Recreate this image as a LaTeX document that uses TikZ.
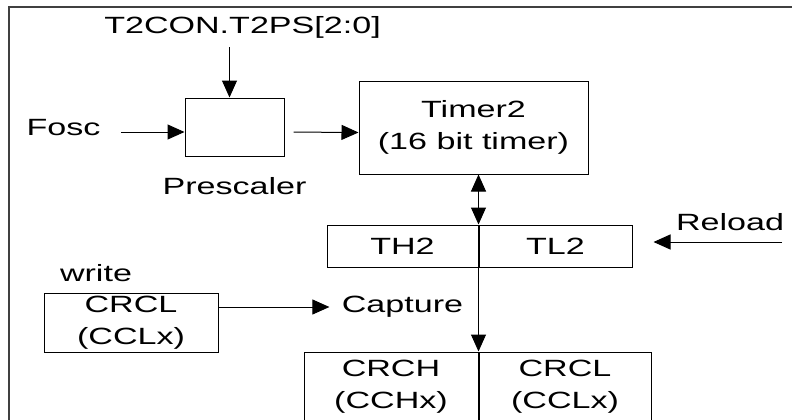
\documentclass[tikz,border=0pt]{standalone}
\usepackage{fontspec}
\setmainfont[FakeStretch=1.45]{Liberation Sans}
\usetikzlibrary{arrows.meta,positioning}

\begin{document}
\begin{tikzpicture}[x=1pt,y=-1pt,line width=1pt,>={Triangle[length=17pt,width=15pt]},
  every node/.style={font=\fontsize{23.5}{32}\selectfont},
  box/.style={draw,line width=1pt,align=center,inner sep=0pt},
  lbl/.style={inner sep=0pt}]
\useasboundingbox (0,0) rectangle (792,420);
\clip (0,0) rectangle (792,420);
\draw[line width=2pt,black!75] (9,7) rectangle (810,440);
\node[box,minimum width=99pt,minimum height=58pt] (prescaler) at (234.5,127) {};
\node[lbl] (fosc) at (63.5,128) {Fosc};
\node[lbl] (t2ps) at (242.5,27) {T2CON.T2PS[2:0]};
\node[lbl,below=20pt of prescaler] (prelabel) {Prescaler};
\node[box,minimum width=229pt,minimum height=93pt] (timer) at (473.5,127.5) {Timer2\\(16 bit timer)};
\node[box,minimum width=151pt,minimum height=42pt] (th2) at (402.5,246) {TH2};
\node[box,minimum width=153pt,minimum height=42pt,right=0pt of th2] (tl2) {TL2};
\node[lbl] (reload) at (730,222) {Reload};
\coordinate (reloadsrc) at (782,242);
\node[box,minimum width=174pt,minimum height=70pt] (crch) at (391,387) {CRCH\\(CCHx)};
\node[box,minimum width=172pt,minimum height=70pt,right=0pt of crch] (crcl) {CRCL\\(CCLx)};
\node[lbl] (capture) at (402.5,307) {Capture};
\node[lbl] (write) at (96,273) {write};
\node[box,minimum width=174pt,minimum height=59pt] (crclw) at (131,322.5) {CRCL\\(CCLx)};
\draw[->,shorten <=20pt] ([yshift=-4pt]fosc.east) -- ([yshift=-5pt]prescaler.west);
\draw[->,shorten <=9pt] ([xshift=-5pt]t2ps.south -| prescaler) -- ([xshift=-5pt]prescaler.north);
\draw[->,shorten <=9pt] ([yshift=-5pt]prescaler.east) -- ([yshift=-5pt]timer.west);
\draw[<->] (timer.south -| th2.north east) -- (th2.north east);
\draw[->] (th2.south east) -- (crch.north east);
\draw[->,shorten >=21pt] (reloadsrc) -- (reloadsrc -| tl2.east);
\draw[->,shorten >=12pt] (crclw.east |- capture) -- (capture.west);
\end{tikzpicture}
\end{document}
